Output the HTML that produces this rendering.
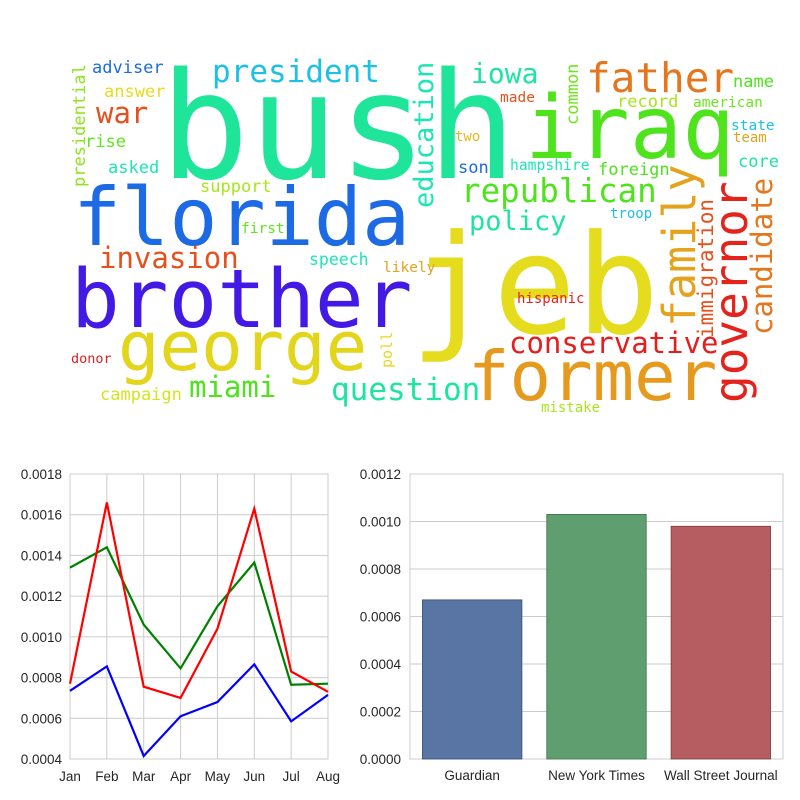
<!DOCTYPE html>
<html><head><meta charset="utf-8"><style>
html,body{margin:0;padding:0;background:#fff;width:800px;height:800px;overflow:hidden}
svg{display:block}
.wc text{font-family:"DejaVu Sans Mono","Liberation Mono",monospace}
.tick{font-family:"Liberation Sans",Arial,sans-serif;font-size:13.5px;fill:#262626}
</style></head><body>
<svg width="800" height="800">
<g class="wc">
<text x="160" y="178" font-size="148" fill="#1ee59a">bush</text>
<text x="525" y="158" font-size="87" fill="#4ee31c">iraq</text>
<text x="73" y="245" font-size="80" fill="#1d6ae5">florida</text>
<text x="410" y="333" font-size="138" fill="#e5dc1d">jeb</text>
<text x="71" y="327" font-size="81" fill="#4319e5">brother</text>
<text x="118" y="370" font-size="69" fill="#e2d51b">george</text>
<text x="468" y="400" font-size="69" fill="#e59a1d">former</text>
<text transform="translate(747,403) rotate(-90)" font-size="46" fill="#e5231d">governor</text>
<text transform="translate(695,327) rotate(-90)" font-size="45" fill="#e5a21d">family</text>
<text transform="translate(772,335) rotate(-90)" font-size="29" fill="#e5761d">candidate</text>
<text transform="translate(713,338) rotate(-90)" font-size="21" fill="#e5511d">immigration</text>
<text transform="translate(433,208) rotate(-90)" font-size="27" fill="#1de5b7">education</text>
<text transform="translate(578,125) rotate(-90)" font-size="17" fill="#6ee51d">common</text>
<text transform="translate(85,187) rotate(-90)" font-size="17" fill="#8ee51d">presidential</text>
<text transform="translate(392,368) rotate(-90)" font-size="15" fill="#e5d81d">poll</text>
<text x="212" y="82" font-size="31" fill="#1dc1e5">president</text>
<text x="471" y="83" font-size="28" fill="#1de5a0">iowa</text>
<text x="586" y="92" font-size="41" fill="#e5761d">father</text>
<text x="733" y="87" font-size="17" fill="#4ee31c">name</text>
<text x="92" y="73" font-size="17" fill="#1d6ae5">adviser</text>
<text x="104" y="97" font-size="17" fill="#e5dc1d">answer</text>
<text x="96" y="123" font-size="29" fill="#e5511d">war</text>
<text x="85" y="147" font-size="17" fill="#5ee51d">rise</text>
<text x="108" y="173" font-size="17" fill="#1de5b7">asked</text>
<text x="200" y="192" font-size="17" fill="#a8e51d">support</text>
<text x="241" y="233" font-size="14.5" fill="#5ee51d">first</text>
<text x="99" y="268" font-size="29" fill="#e5511d">invasion</text>
<text x="309" y="265" font-size="16.5" fill="#1de5b7">speech</text>
<text x="383" y="272" font-size="14.5" fill="#e5a21d">likely</text>
<text x="71" y="363" font-size="13.5" fill="#e51d1d">donor</text>
<text x="189" y="397" font-size="29" fill="#4ee31c">miami</text>
<text x="100" y="400" font-size="17" fill="#d4e51d">campaign</text>
<text x="331" y="400" font-size="31" fill="#1de5a0">question</text>
<text x="500" y="102" font-size="14.5" fill="#e5511d">made</text>
<text x="617" y="107" font-size="17" fill="#a8e51d">record</text>
<text x="693" y="107" font-size="14.5" fill="#6ee51d">american</text>
<text x="731" y="130" font-size="14.5" fill="#1dc1e5">state</text>
<text x="733" y="142" font-size="14" fill="#e5a21d">team</text>
<text x="455" y="141" font-size="14" fill="#e5b71d">two</text>
<text x="738" y="167" font-size="17" fill="#1de5a0">core</text>
<text x="458" y="173" font-size="17" fill="#1d6ae5">son</text>
<text x="510" y="170" font-size="14.7" fill="#1de5b7">hampshire</text>
<text x="598" y="175" font-size="17" fill="#4ee31c">foreign</text>
<text x="461" y="202" font-size="32.5" fill="#4ee31c">republican</text>
<text x="469" y="230" font-size="27" fill="#1de5a0">policy</text>
<text x="610" y="218" font-size="14" fill="#1dc1e5">troop</text>
<text x="509" y="353" font-size="29" fill="#e51d1d">conservative</text>
<text x="517" y="303" font-size="14" fill="#e5231d">hispanic</text>
<text x="541" y="412" font-size="14" fill="#a8e51d">mistake</text>
</g>
<g id="line-chart"></g>
<g id="bar-chart"></g>
</svg>
<script>
const months = ["Jan","Feb","Mar","Apr","May","Jun","Jul","Aug"];
const redSeries = [0.00077,0.00166,0.000755,0.0007,0.00104,0.00163,0.00083,0.00073];
const greenSeries = [0.00134,0.00144,0.00106,0.000845,0.00115,0.001365,0.000765,0.00077];
const blueSeries = [0.000735,0.000855,0.000415,0.00061,0.00068,0.000865,0.000585,0.000715];
const lineTicks = [0.0004,0.0006,0.0008,0.0010,0.0012,0.0014,0.0016,0.0018];
const papers = ["Guardian","New York Times","Wall Street Journal"];
const paperValues = [0.00067,0.00103,0.00098];
const barTicks = [0,0.0002,0.0004,0.0006,0.0008,0.0010,0.0012];

const NS="http://www.w3.org/2000/svg";
function mk(parent,tag,attrs){const e=document.createElementNS(NS,tag);for(const k in attrs)e.setAttribute(k,attrs[k]);parent.appendChild(e);return e;}

// line chart
const L=document.getElementById('line-chart');
const lx0=70,lx1=328,ly0=759,ly1=474;
const lxs=i=>lx0+(lx1-lx0)*i/(months.length-1);
const lys=v=>ly0-(v-0.0004)/(0.0018-0.0004)*(ly0-ly1);
lineTicks.forEach(t=>{
  const g=mk(L,'line',{x1:lx0,x2:lx1,y1:lys(t),y2:lys(t),stroke:'#cccccc','stroke-width':1});
  
  
  const tx=mk(L,'text',{x:62,y:lys(t)+5,'text-anchor':'end',class:'tick'});
  tx.textContent=t.toFixed(4);
  
  
});
months.forEach((m,i)=>{
  const g=mk(L,'line',{x1:lxs(i),x2:lxs(i),y1:ly1,y2:ly0,stroke:'#cccccc','stroke-width':1});
  
  
  const tx=mk(L,'text',{x:lxs(i),y:781,'text-anchor':'middle',class:'tick'});
  tx.textContent=m;
  
  
});
const lb=mk(L,'rect',{x:lx0,y:ly1,width:lx1-lx0,height:ly0-ly1,fill:'none',stroke:'#cccccc'});


[[greenSeries,'#008000','green-line'],[redSeries,'#ff0000','red-line'],[blueSeries,'#0000ff','blue-line']].forEach(([s,c,n])=>{
  const p=mk(L,'polyline',{points:s.map((v,i)=>lxs(i)+','+lys(v)).join(' '),fill:'none',stroke:c,'stroke-width':2.2});
  
  
});

// bar chart
const B=document.getElementById('bar-chart');
const bx0=410,bx1=783,by0=759,by1=474;
const bys=v=>by0-v/0.0012*(by0-by1);
const band=(bx1-bx0)/papers.length;
barTicks.forEach(t=>{
  const g=mk(B,'line',{x1:bx0,x2:bx1,y1:bys(t),y2:bys(t),stroke:'#cccccc','stroke-width':1});
  
  
  const tx=mk(B,'text',{x:401,y:bys(t)+5,'text-anchor':'end',class:'tick'});
  tx.textContent=t.toFixed(4);
  
  
});
const bb=mk(B,'rect',{x:bx0,y:by1,width:bx1-bx0,height:by0-by1,fill:'none',stroke:'#cccccc'});


const fills=['#5975a4','#5f9e6e','#b55d60'],strokes=['#3a4e70','#41704c','#7d4042'];
papers.forEach((p,i)=>{
  const cx=bx0+band*(i+0.5),w=band*0.8;
  const r=mk(B,'rect',{x:cx-w/2,y:bys(paperValues[i]),width:w,height:by0-bys(paperValues[i]),fill:fills[i],stroke:strokes[i],'stroke-width':0.8});
  
  
  const tx=mk(B,'text',{x:cx,y:780,'text-anchor':'middle',class:'tick'});
  tx.textContent=p;
  
  
});
</script>
</body></html>
